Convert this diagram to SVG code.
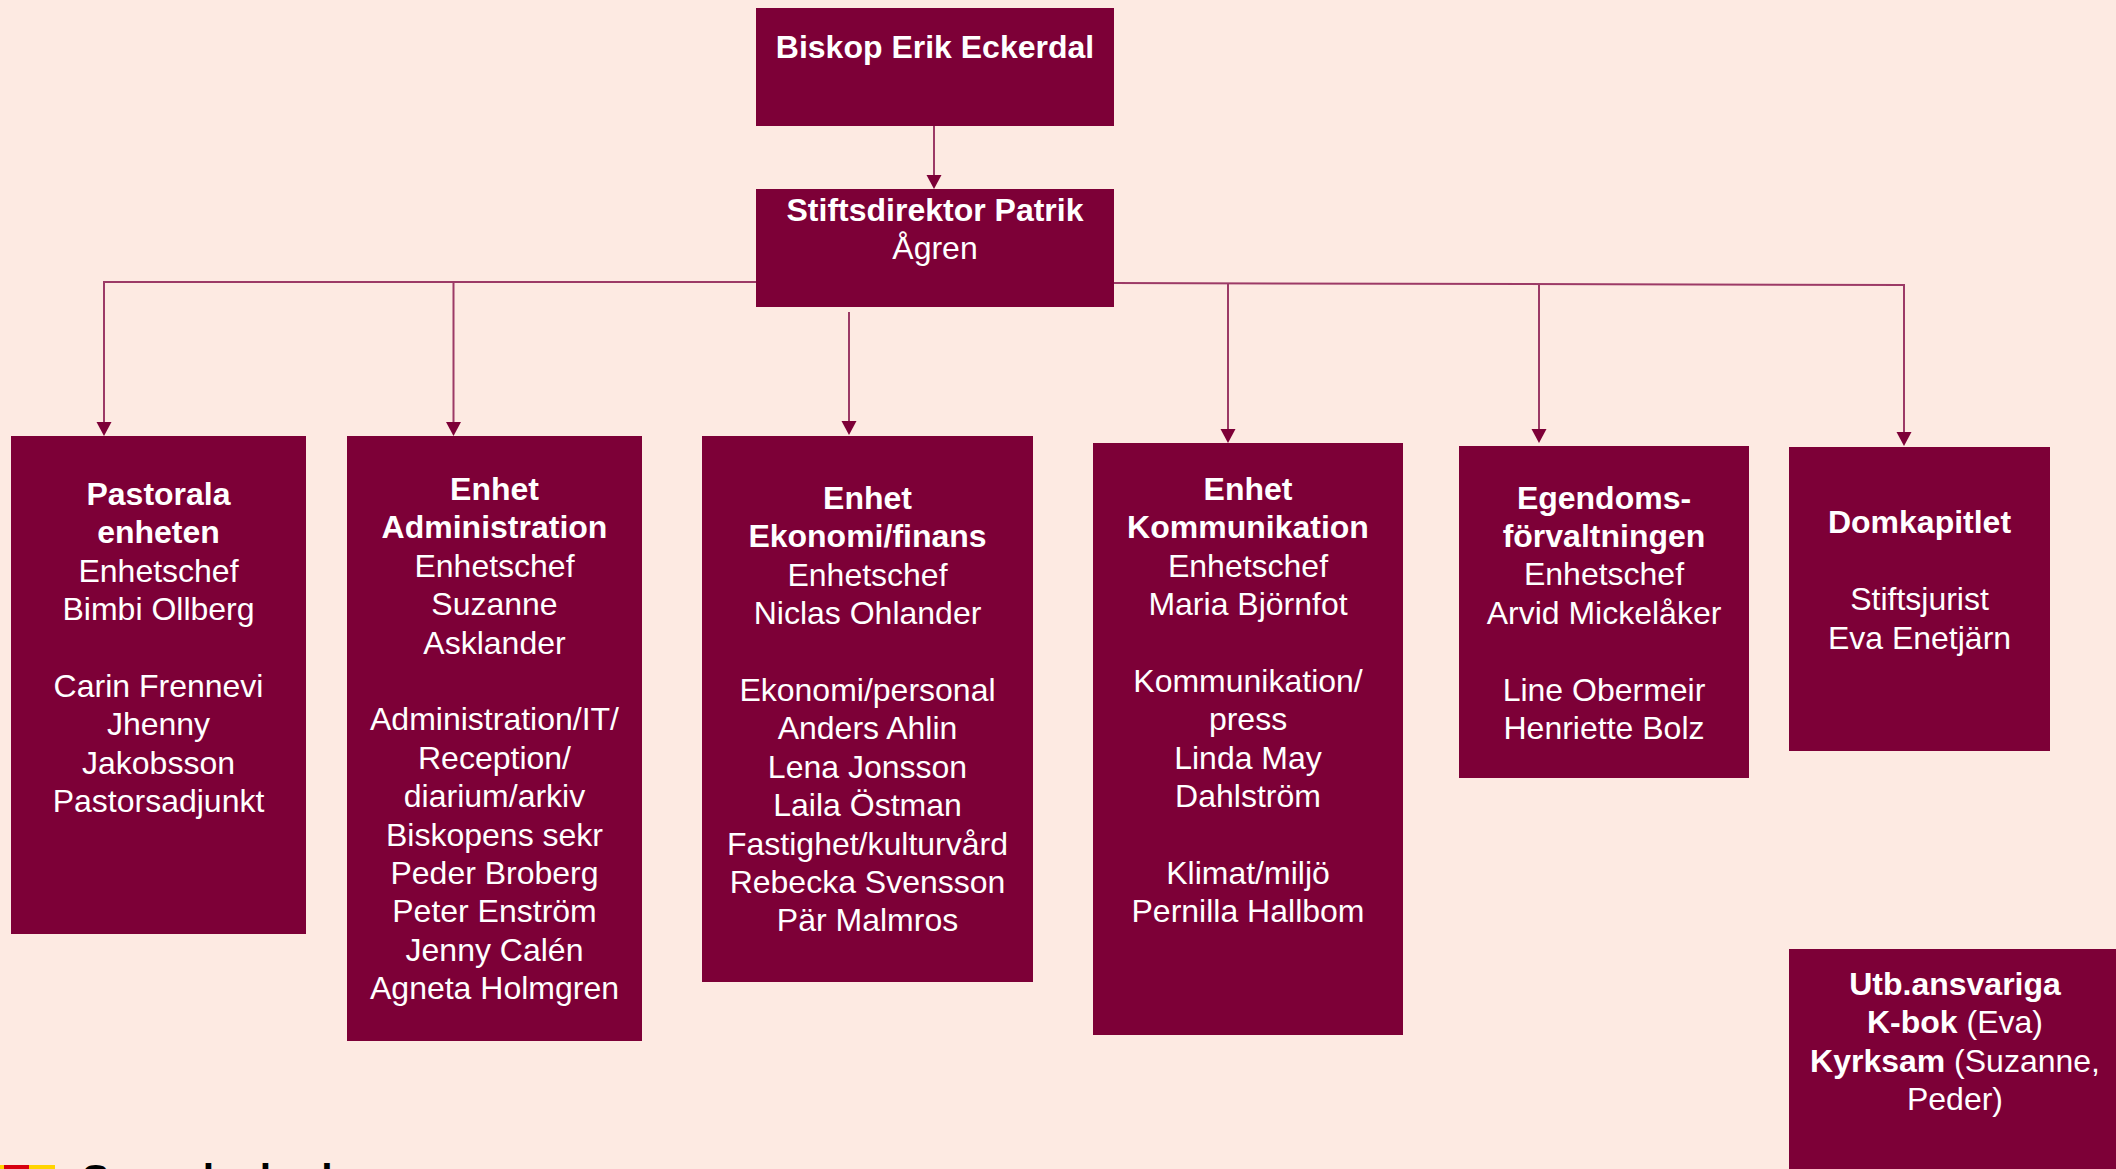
<svg xmlns="http://www.w3.org/2000/svg" width="2116" height="1169" viewBox="0 0 2116 1169">
<style>
.bg{fill:#FDEAE2}
.box{fill:#7D0037}
.t{font-family:"Liberation Sans",Arial,sans-serif;font-size:32px;fill:#FFFFFF;text-anchor:middle}
.b{font-weight:bold}
.conn{fill:none;stroke:#9C3A66;stroke-width:2}
.logo{font-family:"Liberation Sans",Arial,sans-serif;font-size:41px;font-weight:bold;fill:#000000}
</style>
<defs>
<marker id="arr" markerUnits="userSpaceOnUse" markerWidth="16" markerHeight="16" refX="6" refY="7.5" orient="auto">
<path d="M0,0 L14,7.5 L0,15 z" fill="#7D0037"/>
</marker>
</defs>
<rect class="bg" x="0" y="0" width="2116" height="1169"/>

<g id="connectors">
<path class="conn" d="M934,126 V181" marker-end="url(#arr)"/>
<path class="conn" d="M756,282 H104 V428" marker-end="url(#arr)"/>
<path class="conn" d="M453.5,282 V428" marker-end="url(#arr)"/>
<path class="conn" d="M849,312 V427" marker-end="url(#arr)"/>
<path class="conn" d="M1114,283 L1904,285 V438" marker-end="url(#arr)"/>
<path class="conn" d="M1228,283.3 V435" marker-end="url(#arr)"/>
<path class="conn" d="M1539,284 V435" marker-end="url(#arr)"/>
</g>

<g id="biskop">
<rect class="box" x="756" y="8" width="358" height="118"/>
<text class="t b" x="935" y="58">Biskop Erik Eckerdal</text>
</g>

<g id="stiftsdirektor">
<rect class="box" x="756" y="189" width="358" height="118"/>
<text class="t b" x="935" y="221">Stiftsdirektor Patrik</text>
<text class="t" x="935" y="259.4">Ågren</text>
</g>

<g id="pastorala">
<rect class="box" x="11" y="436" width="295" height="498"/>
<text class="t b" x="158.5" y="505">Pastorala</text>
<text class="t b" x="158.5" y="543.4">enheten</text>
<text class="t" x="158.5" y="581.8">Enhetschef</text>
<text class="t" x="158.5" y="620.2">Bimbi Ollberg</text>
<text class="t" x="158.5" y="697">Carin Frennevi</text>
<text class="t" x="158.5" y="735.4">Jhenny</text>
<text class="t" x="158.5" y="773.8">Jakobsson</text>
<text class="t" x="158.5" y="812.2">Pastorsadjunkt</text>
</g>

<g id="administration">
<rect class="box" x="347" y="436" width="295" height="605"/>
<text class="t b" x="494.5" y="500">Enhet</text>
<text class="t b" x="494.5" y="538.4">Administration</text>
<text class="t" x="494.5" y="576.8">Enhetschef</text>
<text class="t" x="494.5" y="615.2">Suzanne</text>
<text class="t" x="494.5" y="653.6">Asklander</text>
<text class="t" x="494.5" y="730.4">Administration/IT/</text>
<text class="t" x="494.5" y="768.8">Reception/</text>
<text class="t" x="494.5" y="807.2">diarium/arkiv</text>
<text class="t" x="494.5" y="845.6">Biskopens sekr</text>
<text class="t" x="494.5" y="884">Peder Broberg</text>
<text class="t" x="494.5" y="922.4">Peter Enström</text>
<text class="t" x="494.5" y="960.8">Jenny Calén</text>
<text class="t" x="494.5" y="999.2">Agneta Holmgren</text>
</g>

<g id="ekonomi">
<rect class="box" x="702" y="436" width="331" height="546"/>
<text class="t b" x="867.5" y="509">Enhet</text>
<text class="t b" x="867.5" y="547.4">Ekonomi/finans</text>
<text class="t" x="867.5" y="585.8">Enhetschef</text>
<text class="t" x="867.5" y="624.2">Niclas Ohlander</text>
<text class="t" x="867.5" y="701">Ekonomi/personal</text>
<text class="t" x="867.5" y="739.4">Anders Ahlin</text>
<text class="t" x="867.5" y="777.8">Lena Jonsson</text>
<text class="t" x="867.5" y="816.2">Laila Östman</text>
<text class="t" x="867.5" y="854.6">Fastighet/kulturvård</text>
<text class="t" x="867.5" y="893">Rebecka Svensson</text>
<text class="t" x="867.5" y="931.4">Pär Malmros</text>
</g>

<g id="kommunikation">
<rect class="box" x="1093" y="443" width="310" height="592"/>
<text class="t b" x="1248" y="500">Enhet</text>
<text class="t b" x="1248" y="538.4">Kommunikation</text>
<text class="t" x="1248" y="576.8">Enhetschef</text>
<text class="t" x="1248" y="615.2">Maria Björnfot</text>
<text class="t" x="1248" y="692">Kommunikation/</text>
<text class="t" x="1248" y="730.4">press</text>
<text class="t" x="1248" y="768.8">Linda May</text>
<text class="t" x="1248" y="807.2">Dahlström</text>
<text class="t" x="1248" y="884">Klimat/miljö</text>
<text class="t" x="1248" y="922.4">Pernilla Hallbom</text>
</g>

<g id="egendom">
<rect class="box" x="1459" y="446" width="290" height="332"/>
<text class="t b" x="1604" y="508.5">Egendoms-</text>
<text class="t b" x="1604" y="546.9">förvaltningen</text>
<text class="t" x="1604" y="585.3">Enhetschef</text>
<text class="t" x="1604" y="623.7">Arvid Mickelåker</text>
<text class="t" x="1604" y="700.5">Line Obermeir</text>
<text class="t" x="1604" y="738.9">Henriette Bolz</text>
</g>

<g id="domkapitlet">
<rect class="box" x="1789" y="447" width="261" height="304"/>
<text class="t b" x="1919.5" y="533.3">Domkapitlet</text>
<text class="t" x="1919.5" y="610.1">Stiftsjurist</text>
<text class="t" x="1919.5" y="648.5">Eva Enetjärn</text>
</g>

<g id="utbildning">
<rect class="box" x="1789" y="949" width="331" height="230"/>
<text class="t b" x="1955" y="995">Utb.ansvariga</text>
<text class="t" x="1955" y="1033.4"><tspan class="b">K-bok</tspan> (Eva)</text>
<text class="t" x="1955" y="1071.8"><tspan class="b">Kyrksam</tspan> (Suzanne,</text>
<text class="t" x="1955" y="1110.2">Peder)</text>
</g>

<g id="logo">
<rect x="0" y="1165" width="55" height="10" fill="#FFD400"/>
<rect x="4" y="1165" width="25" height="10" fill="#D7000F"/>
<text class="logo" x="82" y="1192.5">Svenska kyrkan</text>
</g>
</svg>
